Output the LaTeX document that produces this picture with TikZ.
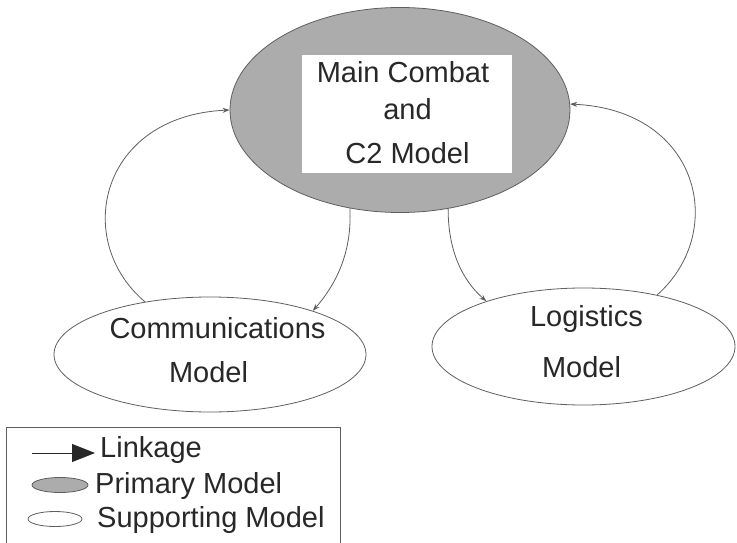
\documentclass[tikz,border=0pt]{standalone}
\usepackage{fontspec}
\setmainfont{Liberation Sans}
\usetikzlibrary{shapes.geometric,arrows.meta}
\definecolor{mainfill}{RGB}{172,172,172}
\definecolor{edge}{RGB}{95,95,95}
\definecolor{ink}{RGB}{40,40,40}
\begin{document}
\begin{tikzpicture}[x=1pt,y=-1pt,
  model/.style={ellipse,draw=edge,line width=0.8pt,inner sep=0pt},
  lbl/.style={inner sep=0pt,text=ink,font=\fontsize{29}{34}\selectfont},
  link/.style={draw=edge,line width=0.8pt,-{Stealth[length=7pt,width=5pt]}}]
\useasboundingbox (0,0) rectangle (737,543);
\clip (0,0) rectangle (737,543);
\fill[white] (0,0) rectangle (737,543);
% models
\node[model,fill=mainfill,minimum width=340pt,minimum height=205pt] (main) at (400,110) {};
\node[fill=white,inner sep=0pt,minimum width=210pt,minimum height=118pt] (mainbox) at (407,114) {};
\node[model,fill=white,minimum width=312pt,minimum height=115pt] (comm) at (210,354.5) {};
\node[model,fill=white,minimum width=303pt,minimum height=117pt] (logi) at (583.5,346.5) {};
% labels
\node[lbl,anchor=base] (t1) at (403,83) {Main Combat};
\node[lbl,anchor=base] (t2) at (407.5,120) {and};
\node[lbl,anchor=base] (t3) at (407.5,163) {C2 Model};
\node[lbl,anchor=base] (c1) at (217.5,338) {Communications};
\node[lbl,anchor=base] (c2) at (208.5,382) {Model};
\node[lbl,anchor=base] (l1) at (586.5,326) {Logistics};
\node[lbl,anchor=base] (l2) at (581.5,377) {Model};
% linkages
\draw[link] (comm.141) .. controls (72,240) and (100,116) .. (main.180);
\draw[link] (logi.35) .. controls (728,232) and (700,110) .. (main.2);
\draw[link] (main.243.6) .. controls (352,250) and (338,282) .. (comm.23);
\draw[link] (main.296.4) .. controls (448,250) and (462,280) .. (logi.155);
% legend
\node[draw=edge,line width=0.8pt,inner sep=0pt,minimum width=334pt,minimum height=124pt,anchor=north west] (legend) at (6,427) {};
\coordinate (lgA) at (32,453);
\coordinate (lgB) at (95,453);
\draw[draw=ink,line width=0.9pt,-{Triangle[length=23pt,width=18pt]}] (lgA) -- (lgB);
\node[lbl,anchor=base west] (k1) at (100,457) {Linkage};
\node[model,fill=mainfill,minimum width=56pt,minimum height=15pt] (lp) at (60,485) {};
\node[lbl,anchor=base west] (k2) at (95,493) {Primary Model};
\node[model,fill=white,minimum width=54pt,minimum height=15pt] (ls) at (55,519) {};
\node[lbl,anchor=base west] (k3) at (97,527) {Supporting Model};
\end{tikzpicture}
\end{document}
